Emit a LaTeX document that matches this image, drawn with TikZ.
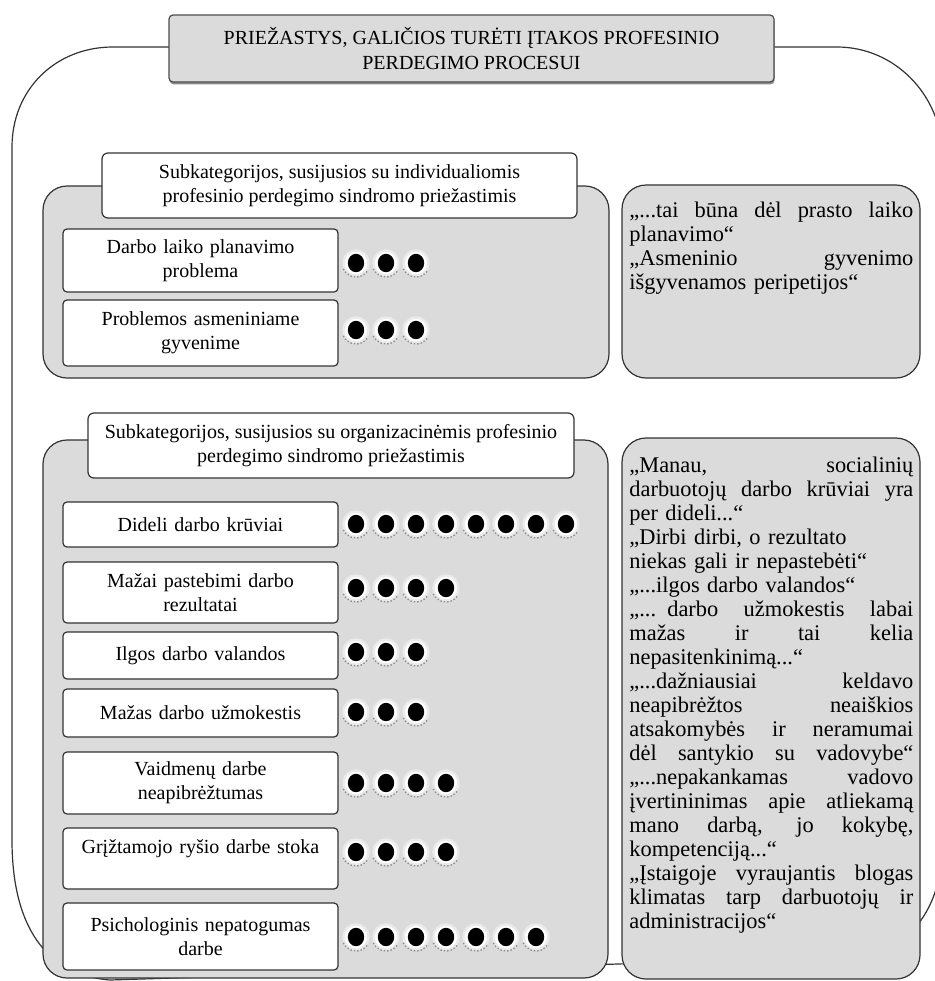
\documentclass[tikz,border=0pt]{standalone}
\usepackage{fontspec}
\setmainfont{Liberation Serif}
\usetikzlibrary{shadows}

\newlength\qw
\setlength\qw{142pt}
\newcommand\jl[1]{\leavevmode\hbox to\qw{\spaceskip=.25em plus 1fil\relax #1}} % justified line of a quote

\tikzset{
 panel/.style={draw=black!80, fill=black!14, line width=0.6pt, rounded corners=12pt},
 titlebox/.style={draw=black!70, fill=black!14, line width=0.6pt, rounded corners=2pt,
   minimum width=302.5pt, minimum height=33.5pt, align=center,
   font=\fontsize{10}{12.5}\selectfont,
   drop shadow={shadow xshift=0.3pt, shadow yshift=-1.2pt, fill=black!45, opacity=1}},
 subbox/.style={draw=black!80, fill=white, line width=0.6pt, rounded corners=3pt,
   align=center, font=\fontsize{10}{12}\selectfont},
 itembox/.style={draw=black!80, fill=white, line width=0.6pt, rounded corners=2pt,
   minimum width=137.5pt, text width=128pt, align=center, font=\fontsize{10}{12}\selectfont},
 quotetext/.style={anchor=north west, inner sep=0pt, text width=\qw, align=left,
   font=\fontsize{11.2}{12}\selectfont},
 hole/.style={circle, fill=white, draw=black!8, line width=1.2pt, minimum size=12.5pt, inner sep=0pt,
   path picture={\fill[black] (path picture bounding box.center) ellipse (4.1pt and 4.6pt);}},
}

\begin{document}
\begin{tikzpicture}[x=0.5pt,y=-0.5pt]
 \clip (0,0) rectangle (935,981);
 \def\hx{356} % first hole of a row
 \def\dx{30}  % distance between holes
 \def\holes#1#2#3{\foreach \i in {1,...,#3}{%
   \node[hole] (#1-\i) at ({\hx+(\i-1)*\dx},#2) {};
   \draw[black!45, densely dotted, line width=0.7pt] ([shift={(205:7pt)}]#1-\i.center) arc (205:330:7pt);}}
% outer frame
 \draw[black!80, line width=0.6pt] (12,147) .. controls (12,90) and (55,47) .. (113,47) -- (837,47)
   .. controls (895,47) and (940,95) .. (942,150) -- (942,850)
   .. controls (940,915) and (905,957) .. (840,957) -- (110,980)
   .. controls (45,975) and (12,925) .. (12,840) -- cycle;
% grey panels
 \draw[panel] (43,186) rectangle (609,378);
 \draw[panel] (622,185) rectangle (920,378);
 \draw[panel] (43,440) rectangle (608,978);
 \draw[panel] (622,438) rectangle (920,979);
% headers
 \node[titlebox] (title) at (471.5,48.5) {PRIEŽASTYS, GALIČIOS TURĖTI ĮTAKOS PROFESINIO\\PERDEGIMO PROCESUI};
 \node[subbox, minimum width=237.5pt, minimum height=32.5pt] (sub1) at (339.5,185.5)
   {Subkategorijos, susijusios su individualiomis\\profesinio perdegimo sindromo priežastimis};
 \node[subbox, minimum width=243pt, minimum height=32.5pt] (sub2) at (331,445.5)
   {Subkategorijos, susijusios su organizacinėmis profesinio\\perdegimo sindromo priežastimis};
% individualios
 \node[itembox, minimum height=31.5pt] (ind1) at (200.5,260.5) {Darbo laiko planavimo\\problema};
 \node[itembox, minimum height=33pt] (ind2) at (200.5,333) {Problemos asmeniniame\\gyvenime};
 \holes{ind1h}{263}{3}
 \holes{ind2h}{330}{3}
% organizacines
 \node[itembox, minimum height=22.5pt] (org1) at (200.5,524.5) {Dideli darbo krūviai};
 \node[itembox, minimum height=30.5pt] (org2) at (200.5,592.5) {Mažai pastebimi darbo\\rezultatai};
 \node[itembox, minimum height=23.5pt] (org3) at (200.5,655.5) {Ilgos darbo valandos};
 \node[itembox, minimum height=24pt] (org4) at (200.5,713) {Mažas darbo užmokestis};
 \node[itembox, minimum height=31pt] (org5) at (200.5,783) {Vaidmenų darbe\\neapibrėžtumas};
 \node[itembox, minimum height=30.5pt] (org6) at (200.5,858.5) {Grįžtamojo ryšio darbe stoka\\\mbox{}};
 \node[itembox, minimum height=33.5pt] (org7) at (200.5,936.5) {Psichologinis nepatogumas\\darbe};
 \holes{org1h}{524}{8}
 \holes{org2h}{588}{4}
 \holes{org3h}{652}{3}
 \holes{org4h}{712}{3}
 \holes{org5h}{783}{4}
 \holes{org6h}{852}{4}
 \holes{org7h}{937}{7}
% citatos
 \node[quotetext] (q1) at (629,202) {\jl{„...tai būna dėl prasto laiko}\\planavimo“\\
   \jl{„Asmeninio gyvenimo}\\išgyvenamos peripetijos“};
 \node[quotetext] (q2) at (629,457) {\jl{„Manau, socialinių}\\\jl{darbuotojų darbo krūviai yra}\\
   per dideli...“\\„Dirbi dirbi, o rezultato\\niekas gali ir nepastebėti“\\„...ilgos darbo valandos“\\
   \jl{„... darbo užmokestis labai}\\\jl{mažas ir tai kelia}\\nepasitenkinimą...“\\
   \jl{„...dažniausiai keldavo}\\\jl{neapibrėžtos neaiškios}\\\jl{atsakomybės ir neramumai}\\
   \jl{dėl santykio su vadovybe“}\\\jl{„...nepakankamas vadovo}\\\jl{įvertininimas apie atliekamą}\\
   \jl{mano darbą, jo kokybę,}\\kompetenciją...“\\\jl{„Įstaigoje vyraujantis blogas}\\
   \jl{klimatas tarp darbuotojų ir}\\administracijos“};
\end{tikzpicture}
\end{document}
